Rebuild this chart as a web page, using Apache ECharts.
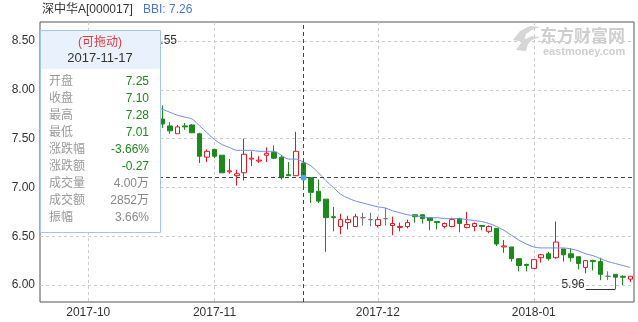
<!DOCTYPE html>
<html><head><meta charset="utf-8">
<script src="https://cdn.jsdelivr.net/npm/echarts@6.0.0/dist/echarts.min.js"></script>
<style>html,body{margin:0;padding:0;background:#fff}#c{width:638px;height:322px}</style>
</head><body><div id="c"></div>
<script>
const dates = [
 '2017-09-22','2017-09-25','2017-09-26','2017-09-27','2017-09-28','2017-09-29',
 '2017-10-09','2017-10-10','2017-10-11','2017-10-12','2017-10-13','2017-10-16','2017-10-17','2017-10-18','2017-10-19','2017-10-20',
 '2017-10-23','2017-10-24','2017-10-25','2017-10-26','2017-10-27','2017-10-30','2017-10-31',
 '2017-11-01','2017-11-02','2017-11-03','2017-11-06','2017-11-07','2017-11-08','2017-11-09','2017-11-10',
 '2017-11-13','2017-11-14','2017-11-15','2017-11-16','2017-11-17','2017-11-20','2017-11-21','2017-11-22','2017-11-23','2017-11-24',
 '2017-11-27','2017-11-28','2017-11-29','2017-11-30',
 '2017-12-01','2017-12-04','2017-12-05','2017-12-06','2017-12-07','2017-12-08','2017-12-11','2017-12-12','2017-12-13','2017-12-14','2017-12-15',
 '2017-12-18','2017-12-19','2017-12-20','2017-12-21','2017-12-22','2017-12-25','2017-12-26','2017-12-27','2017-12-28','2017-12-29',
 '2018-01-02','2018-01-03','2018-01-04','2018-01-05','2018-01-08','2018-01-09','2018-01-10','2018-01-11','2018-01-12',
 '2018-01-15','2018-01-16','2018-01-17','2018-01-18','2018-01-19'
];
const openVals = [8.10,8.18,8.12,8.20,8.25,8.30,8.26,8.40,8.45,8.30,8.22,8.10,8.02,7.95,7.88,7.82,
 7.70,7.63,7.55,7.63,7.64,7.55,7.31,7.39,7.33,7.16,7.12,7.15,7.29,7.27,7.33,7.36,7.31,7.13,7.12,7.25,
 7.10,6.96,6.88,6.70,6.60,6.64,6.60,6.69,6.67,6.61,6.68,6.61,6.59,6.60,6.72,6.72,6.69,6.65,6.60,6.60,
 6.68,6.59,6.60,6.61,6.55,6.58,6.39,6.39,6.27,6.21,6.17,6.28,6.32,6.28,6.37,6.32,6.29,6.18,6.25,6.24,
 6.09,6.11,6.09,6.06];
const closeVals = [8.18,8.12,8.20,8.25,8.30,8.26,8.40,8.45,8.30,8.22,8.10,8.02,7.95,7.88,7.82,7.72,
 7.65,7.58,7.62,7.62,7.56,7.32,7.37,7.32,7.15,7.17,7.14,7.34,7.30,7.28,7.35,7.30,7.10,7.12,7.37,7.10,
 6.95,6.86,6.69,6.69,6.67,6.67,6.70,6.69,6.67,6.67,6.68,6.63,6.60,6.64,6.70,6.68,6.66,6.64,6.63,6.67,
 6.63,6.62,6.63,6.60,6.60,6.42,6.40,6.27,6.20,6.20,6.26,6.31,6.27,6.44,6.31,6.28,6.22,6.25,6.24,6.11,
 6.09,6.08,6.08,6.09];
const lowVals = [8.05,8.08,8.10,8.15,8.20,8.22,8.24,8.35,8.25,8.18,8.05,7.96,7.90,7.84,7.78,7.70,
 7.61,7.55,7.55,7.59,7.56,7.25,7.26,7.30,7.15,7.14,7.02,7.07,7.22,7.25,7.26,7.29,7.08,7.12,7.12,7.01,
 6.84,6.84,6.34,6.55,6.52,6.57,6.60,6.61,6.60,6.59,6.61,6.51,6.55,6.58,6.64,6.63,6.56,6.57,6.58,6.59,
 6.54,6.58,6.55,6.56,6.53,6.40,6.33,6.24,6.14,6.14,6.17,6.23,6.25,6.27,6.24,6.24,6.16,6.12,6.15,6.05,
 6.05,5.96,6.00,6.03];
const highVals = [8.22,8.25,8.28,8.32,8.36,8.38,8.48,8.55,8.48,8.35,8.26,8.14,8.06,7.99,7.92,7.85,
 7.84,7.67,7.64,7.66,7.65,7.56,7.39,7.39,7.33,7.29,7.18,7.50,7.37,7.32,7.41,7.43,7.33,7.26,7.57,7.28,
 7.10,7.08,6.88,6.80,6.73,6.71,6.73,6.74,6.74,6.70,6.79,6.70,6.64,6.67,6.72,6.72,6.69,6.65,6.64,6.69,
 6.69,6.75,6.64,6.61,6.61,6.58,6.46,6.39,6.27,6.22,6.26,6.32,6.34,6.65,6.37,6.38,6.29,6.25,6.26,6.28,
 6.14,6.11,6.10,6.09];
const bbiVals = ['-','-','-','-','-','-','-','-','-','-','-','-','-','-',7.86,7.83,
 7.80,7.77,7.74,7.72,7.70,7.63,7.56,7.49,7.44,7.41,7.38,7.38,7.38,7.37,7.37,7.37,7.33,7.29,7.29,7.26,
 7.22,7.15,7.07,7.00,6.93,6.89,6.86,6.84,6.82,6.80,6.79,6.76,6.74,6.72,6.71,6.70,6.69,6.69,6.68,6.68,
 6.68,6.67,6.66,6.65,6.63,6.60,6.56,6.51,6.46,6.42,6.39,6.38,6.38,6.38,6.38,6.37,6.35,6.32,6.30,6.27,
 6.24,6.22,6.20,6.18];
const yTicks = [6.00, 6.50, 7.00, 7.50, 8.00, 8.50];
const focusDate = '2017-11-17';
const tipLabels = ['开盘','收盘','最高','最低','涨跌幅','涨跌额','成交量','成交额','振幅'];
const tipVolume = '4.00万';
const tipAmount = '2852万';
const stockName = '深中华A[000017]';

const FONT = 'Arial, "Liberation Sans", "Noto Sans CJK SC", sans-serif';
const GREEN = '#1b8a1b', RED = '#e6161e', GRAY = '#777';

const candleData = dates.map((d, i) => {
  const item = { value: [openVals[i], closeVals[i], lowVals[i], highVals[i]] };
  if (openVals[i] === closeVals[i]) item.itemStyle = { borderColor: GRAY, borderColor0: GRAY, borderColorDoji: GRAY, color: GRAY, color0: GRAY };
  return item;
});
const isMonthStart = (i) => i > 0 && dates[i].slice(0, 7) !== dates[i - 1].slice(0, 7);

const fi = dates.indexOf(focusDate);
const fO = openVals[fi], fC = closeVals[fi], fH = highVals[fi], fL = lowVals[fi], prevC = closeVals[fi - 1];
const chg = fC - prevC;
const tipValues = [fO.toFixed(2), fC.toFixed(2), fH.toFixed(2), fL.toFixed(2),
  (chg / prevC * 100).toFixed(2) + '%', chg.toFixed(2), tipVolume, tipAmount, ((fH - fL) / prevC * 100).toFixed(2) + '%'];
const tipColors = [GREEN, GREEN, GREEN, GREEN, GREEN, GREEN, '#888', '#888', '#888'];

let lowIdx = 0, highIdx = 0;
lowVals.forEach((v, i) => { if (v < lowVals[lowIdx]) lowIdx = i; });
highVals.forEach((v, i) => { if (v > highVals[highIdx]) highIdx = i; });

const TZ = 200;
const tipChildren = [
  { type: 'rect', z: TZ, shape: { x: 0.5, y: 0.5, width: 120, height: 202 }, style: { fill: '#fff', stroke: '#a6c5ea', lineWidth: 1 } },
  { type: 'rect', z: TZ + 1, shape: { x: 1, y: 1, width: 119, height: 38 }, style: { fill: '#e9f2fc' } },
  { type: 'text', z: TZ + 2, x: 60, y: 13, style: { text: '(可拖动)', fill: '#e0393e', font: '12px ' + FONT, align: 'center', verticalAlign: 'middle' } },
  { type: 'text', z: TZ + 2, x: 60, y: 28, style: { text: focusDate, fill: '#333', font: '13px ' + FONT, align: 'center', verticalAlign: 'middle' } }
];
tipLabels.forEach((lab, k) => {
  const y = 52 + k * 17;
  tipChildren.push({ type: 'text', z: TZ + 2, x: 9, y: y, style: { text: lab, fill: '#9a9a9a', font: '12px ' + FONT, align: 'left', verticalAlign: 'middle' } });
  tipChildren.push({ type: 'text', z: TZ + 2, x: 109, y: y, style: { text: tipValues[k], fill: tipColors[k], font: '12px ' + FONT, align: 'right', verticalAlign: 'middle' } });
});

const chart = echarts.init(document.getElementById('c'), null, { renderer: 'canvas' });
chart.setOption({
  animation: false,
  backgroundColor: '#fff',
  grid: { left: 40, right: 4, top: 22, bottom: 20, show: true, borderColor: '#555', borderWidth: 1, backgroundColor: 'transparent', outerBoundsMode: 'none', containLabel: false },
  xAxis: {
    type: 'category', data: dates, boundaryGap: true,
    axisLine: { show: false }, axisTick: { show: false },
    axisLabel: { interval: (i) => isMonthStart(i), formatter: (v) => v.slice(0, 7), color: '#333', fontSize: 12, fontFamily: FONT, margin: 5 },
    splitLine: { show: true, interval: (i) => isMonthStart(i), alignWithLabel: true, lineStyle: { color: '#ccc', type: [3, 3], width: 1 } }
  },
  yAxis: {
    type: 'value', min: 5.826, max: 8.695, scale: true,
    axisLine: { show: false },
    axisTick: { show: false, customValues: yTicks },
    axisLabel: { customValues: yTicks, formatter: (v) => v.toFixed(2), color: '#333', fontSize: 12, fontFamily: FONT, margin: 5 },
    splitLine: { show: true, lineStyle: { color: '#ccc', type: [3, 3], width: 1 } }
  },
  series: [
    {
      type: 'candlestick', data: candleData, barWidth: 5,
      itemStyle: { color: '#fff', color0: GREEN, borderColor: RED, borderColor0: GREEN, borderColorDoji: GRAY, borderWidth: 1 },
      markLine: {
        silent: true, symbol: 'none', animation: false,
        data: [
          { xAxis: focusDate, lineStyle: { color: '#444', type: [4, 3], width: 1 }, label: { show: false } },
          { yAxis: fC, lineStyle: { color: '#444', type: [4, 3], width: 1 }, label: { show: false } },
          [ { coord: [dates[lowIdx - 4], lowVals[lowIdx]], lineStyle: { color: '#333', type: 'solid', width: 1 }, label: { show: false } },
            { coord: [dates[lowIdx], lowVals[lowIdx]] } ],
          [ { coord: [dates[highIdx], highVals[highIdx]], lineStyle: { color: '#333', type: 'solid', width: 1 }, label: { show: false } },
            { coord: [dates[highIdx + 7], highVals[highIdx]] } ]
        ]
      },
      markPoint: {
        silent: true, animation: false,
        data: [
          { coord: [focusDate, fC], symbol: 'circle', symbolSize: 6, itemStyle: { color: '#52a9e2' }, label: { show: false } },
          { coord: [dates[lowIdx - 4], lowVals[lowIdx]], symbol: 'circle', symbolSize: 0,
            label: { show: true, position: 'left', distance: 1, offset: [0, -4], formatter: lowVals[lowIdx].toFixed(2), color: '#333', fontSize: 12, fontFamily: FONT } },
          { coord: [dates[highIdx + 7], highVals[highIdx]], symbol: 'circle', symbolSize: 0,
            label: { show: true, position: 'right', distance: 6, offset: [0, 5], formatter: highVals[highIdx].toFixed(2), color: '#333', fontSize: 12, fontFamily: FONT } }
        ]
      }
    },
    {
      type: 'line', data: bbiVals, smooth: 0.3, showSymbol: false, symbol: 'none',
      lineStyle: { color: '#6f8fe6', width: 1 }, z: 3
    }
  ],
  graphic: [
    { type: 'text', left: 42, top: 4, style: { text: stockName, fill: '#333', font: '12px ' + FONT } },
    { type: 'text', left: 143, top: 4, style: { text: 'BBI: ' + bbiVals[fi].toFixed(2), fill: '#4a78d6', font: '12px ' + FONT } },
    { type: 'polygon', z: 1, shape: { points: [[513,40],[520,31],[530,26],[540,27],[532,30],[526,34],[524,42]] }, style: { fill: '#d6d6d6' } },
    { type: 'polygon', z: 1, shape: { points: [[516,50],[523,40],[532,36],[540,37],[532,40],[528,44],[526,51]] }, style: { fill: '#d6d6d6' } },
    { type: 'text', left: 540, top: 27, z: 1, style: { text: '东方财富网', fill: '#cfcfcf', font: 'bold 17px "Noto Sans CJK SC", sans-serif' } },
    { type: 'text', left: 543, top: 46, z: 1, style: { text: 'eastmoney.com', fill: '#cfcfcf', font: 'bold 11px ' + FONT } },
    { type: 'group', left: 40, top: 30, z: TZ, zlevel: 1, children: tipChildren }
  ]
});
</script></body></html>
